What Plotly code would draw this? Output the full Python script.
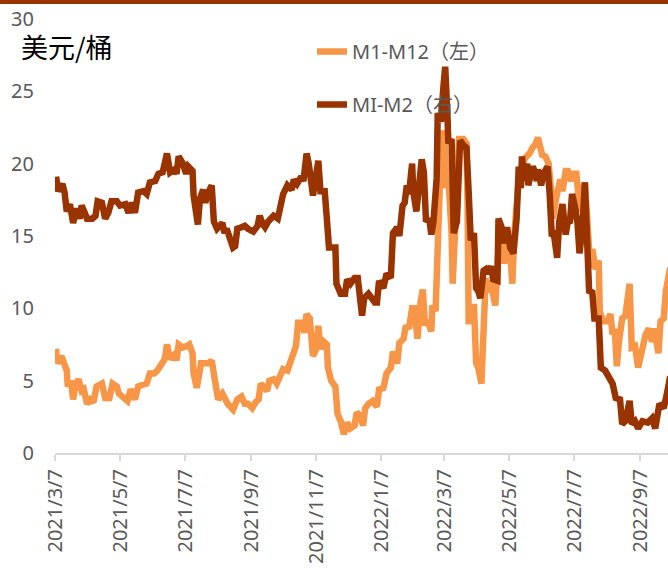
import pandas as pd
import plotly.graph_objects as go

# ---- data ----
BASE_DATE = "2021-03-07"

# M1-M12 spread: days since BASE_DATE, USD/bbl
m1m12_days = [1, 2, 6, 8, 11, 12, 15, 17, 19, 22, 25, 27, 30, 33, 36, 39, 44, 47, 51, 54, 58, 60, 64, 68, 71,
              75, 78, 83, 86, 89, 93, 96, 100, 103, 105, 108, 112, 114, 116, 120, 124, 126, 129, 130, 133,
              137, 141, 144, 147, 149, 150, 153, 157, 160, 162, 167, 171, 175, 178, 181, 185, 188, 191, 193,
              196, 199, 201, 205, 208, 211, 214, 218, 221, 223, 226, 228, 232, 234, 236, 239, 242, 245, 247,
              249, 252, 255, 256, 259, 263, 265, 268, 271, 274, 277, 281, 283, 286, 289, 291, 294, 298, 302,
              304, 308, 311, 315, 317, 321, 323, 327, 329, 332, 335, 337, 340, 343, 345, 347, 350, 353, 354,
              357, 359, 361, 364, 366, 367, 369, 372, 373, 375, 377, 379, 383, 386, 387, 388, 391, 393, 395,
              397, 400, 402, 404, 405, 407, 410, 413, 416, 419, 421, 424, 426, 429, 431, 435, 437, 441, 445,
              448, 451, 453, 455, 457, 460, 463, 465, 467, 470, 472, 474, 476, 479, 481, 484, 486, 489, 491,
              494, 495, 497, 500, 502, 504, 507, 510, 511, 514, 518, 521, 523, 525, 527, 529, 532, 535, 539,
              541, 544, 547, 551, 554, 557, 560, 562, 566, 568, 571, 573, 575, 577]
m1m12_values = [7.2, 6.2, 6.7, 6.4, 5.7, 4.6, 5.0, 3.7, 4.6, 5.1, 4.3, 4.4, 3.4, 3.7, 3.5, 4.6, 4.8, 3.8, 3.8,
                4.8, 4.6, 4.1, 3.8, 3.6, 4.4, 3.7, 4.6, 4.8, 4.8, 5.5, 5.5, 5.7, 6.2, 6.5, 7.5, 6.5, 6.8, 6.4,
                7.5, 7.3, 7.4, 7.5, 6.9, 5.5, 4.5, 6.2, 6.2, 6.2, 6.4, 5.5, 4.4, 3.7, 4.1, 3.7, 3.4, 3.0, 3.7,
                3.9, 3.4, 3.4, 3.1, 3.5, 3.7, 4.8, 4.6, 4.3, 5.0, 5.1, 4.8, 5.2, 5.8, 5.7, 6.4, 6.7, 7.4, 9.0,
                9.0, 8.3, 9.6, 9.3, 6.7, 7.2, 8.8, 7.2, 7.7, 7.5, 5.9, 5.0, 4.6, 2.7, 2.2, 1.3, 2.1, 1.7, 1.9,
                2.8, 2.6, 1.9, 3.1, 3.4, 3.6, 3.2, 4.4, 4.5, 5.5, 5.9, 7.0, 6.2, 7.6, 7.9, 8.8, 8.6, 10.0,
                10.0, 7.9, 10.5, 11.3, 9.0, 9.0, 8.4, 10.2, 9.8, 15.1, 18.6, 22.3, 20.9, 18.3, 19.1, 15.2,
                11.7, 14.9, 18.1, 21.7, 21.7, 21.4, 17.2, 9.1, 9.1, 10.3, 6.2, 5.9, 4.8, 8.9, 12.1, 11.1, 11.9,
                11.3, 10.2, 14.0, 14.8, 13.1, 14.4, 14.9, 11.7, 15.3, 18.8, 19.7, 20.4, 20.7, 21.1, 21.4, 21.8,
                21.1, 20.6, 20.5, 20.0, 18.5, 16.2, 17.6, 18.3, 18.9, 18.1, 19.5, 19.5, 18.8, 19.3, 19.3, 17.8,
                16.7, 18.1, 18.7, 15.3, 12.8, 14.1, 12.7, 13.3, 9.8, 9.1, 9.1, 9.6, 8.2, 8.6, 6.0, 7.7, 9.3,
                9.5, 11.7, 7.3, 7.4, 5.9, 7.5, 8.2, 8.6, 7.7, 8.6, 6.9, 9.1, 9.3, 11.2, 12.1, 12.8]

# MI-M2 spread: days since BASE_DATE, values as drawn
m1m2_days = [1, 3, 7, 9, 11, 14, 17, 20, 23, 25, 28, 30, 35, 38, 40, 44, 47, 50, 53, 58, 61, 66, 69, 72, 75,
             78, 83, 86, 89, 94, 97, 101, 105, 108, 112, 114, 116, 120, 123, 125, 129, 130, 134, 136, 139,
             141, 143, 147, 149, 152, 157, 159, 161, 164, 167, 169, 171, 175, 178, 181, 186, 190, 192, 195,
             197, 200, 205, 209, 211, 214, 218, 222, 224, 227, 231, 233, 236, 238, 242, 245, 247, 249, 253,
             255, 257, 263, 264, 268, 272, 274, 277, 281, 284, 288, 290, 294, 297, 300, 302, 304, 308, 311,
             315, 317, 321, 323, 326, 328, 330, 332, 335, 336, 339, 342, 344, 346, 348, 351, 353, 355, 358,
             359, 362, 364, 366, 368, 369, 372, 373, 374, 377, 378, 380, 383, 386, 388, 390, 393, 395, 397,
             399, 402, 404, 406, 409, 411, 415, 416, 419, 420, 424, 427, 430, 433, 435, 437, 438, 440, 443,
             444, 448, 450, 452, 453, 456, 458, 462, 464, 466, 468, 471, 473, 476, 479, 481, 483, 485, 488,
             490, 492, 495, 497, 500, 501, 504, 506, 510, 512, 516, 519, 523, 526, 530, 532, 535, 539, 541,
             544, 547, 551, 556, 560, 563, 567, 571, 574, 577]
m1m2_values = [19.1, 18.1, 18.6, 18.0, 16.7, 17.2, 15.9, 16.9, 16.2, 17.1, 16.6, 16.2, 16.2, 16.4, 17.4, 17.3,
               16.2, 16.6, 17.4, 17.4, 17.1, 17.2, 16.6, 17.3, 16.6, 18.0, 18.1, 17.9, 18.7, 18.8, 19.3, 19.4,
               20.7, 19.4, 19.6, 19.3, 20.5, 20.0, 19.3, 19.8, 19.5, 17.8, 15.8, 17.6, 18.2, 17.3, 17.9, 18.5,
               16.0, 15.5, 15.9, 15.2, 15.5, 14.9, 14.2, 14.3, 15.5, 15.6, 15.7, 15.5, 15.3, 15.7, 16.4, 15.8,
               15.6, 16.0, 16.4, 16.2, 16.9, 17.9, 18.5, 18.2, 18.9, 18.6, 19.1, 18.8, 20.7, 20.0, 17.8, 19.0,
               20.2, 18.1, 18.1, 16.2, 14.2, 14.2, 11.7, 11.0, 11.0, 12.0, 11.7, 12.1, 12.1, 9.5, 10.7, 11.0,
               10.7, 10.4, 10.4, 11.9, 11.4, 12.4, 12.1, 15.2, 15.6, 15.0, 17.1, 17.3, 18.5, 17.9, 20.0, 18.1,
               16.7, 19.0, 20.3, 19.4, 16.0, 16.2, 15.1, 16.0, 19.0, 23.5, 22.9, 25.0, 26.7, 23.6, 21.4, 21.7,
               17.9, 15.2, 16.0, 18.8, 21.6, 21.3, 21.1, 18.1, 14.7, 15.2, 11.4, 11.2, 10.7, 12.6, 12.7, 12.4,
               12.9, 12.0, 11.9, 16.2, 15.6, 14.5, 15.6, 14.2, 13.8, 16.2, 19.8, 18.3, 20.5, 18.8, 20.0, 18.5,
               19.8, 19.5, 18.8, 19.6, 18.5, 19.3, 19.8, 17.9, 15.0, 15.1, 13.5, 16.0, 17.2, 15.1, 16.0, 15.9,
               17.9, 16.9, 16.0, 13.8, 15.8, 18.7, 13.8, 11.2, 11.1, 9.3, 9.3, 5.9, 5.7, 5.2, 4.8, 3.8, 3.7,
               2.0, 2.2, 3.6, 2.0, 2.2, 1.7, 2.2, 2.1, 2.4, 1.7, 3.4, 3.1, 4.1, 5.3]

tick_dates = ["2021-03-07", "2021-05-07", "2021-07-07", "2021-09-07", "2021-11-07",
              "2022-01-07", "2022-03-07", "2022-05-07", "2022-07-07", "2022-09-07"]
tick_labels = ["2021/3/7", "2021/5/7", "2021/7/7", "2021/9/7", "2021/11/7",
               "2022/1/7", "2022/3/7", "2022/5/7", "2022/7/7", "2022/9/7"]
y_ticks = [0, 5, 10, 15, 20, 25, 30]
series_names = ["M1-M12（左）", "MI-M2（右）"]
unit_label = "美元/桶"
x_end = "2022-10-03"

# ---- figure ----
base = pd.Timestamp(BASE_DATE)
x_orange = base + pd.to_timedelta(m1m12_days, unit="D")
x_brown = base + pd.to_timedelta(m1m2_days, unit="D")

ORANGE = "#F79646"
BROWN = "#993300"
GREY = "#595959"
FONT = "Noto Sans, Noto Sans CJK SC, sans-serif"

fig = go.Figure()
fig.add_trace(go.Scatter(x=x_orange, y=m1m12_values, mode="lines", name=series_names[0],
                         legendgroup="a", line=dict(color=ORANGE, width=6.5)))
fig.add_trace(go.Scatter(x=x_brown, y=m1m2_values, mode="lines", name=series_names[1],
                         legendgroup="b", line=dict(color=BROWN, width=6.5)))

fig.update_layout(
    width=668, height=570,
    margin=dict(l=55, r=0, t=19, b=117, autoexpand=False),
    paper_bgcolor="white", plot_bgcolor="white",
    font=dict(family=FONT, size=20, color=GREY),
    showlegend=True,
    legend=dict(xref="paper", yref="paper", x=(312 - 55) / 613, y=1 - 13 / 434,
                xanchor="left", yanchor="top", bgcolor="rgba(0,0,0,0)",
                traceorder="grouped", tracegroupgap=24,
                font=dict(family=FONT, size=20, color=GREY)),
    xaxis=dict(type="date", range=[BASE_DATE, x_end],
               tickvals=tick_dates, ticktext=tick_labels, tickangle=-90,
               showgrid=False, zeroline=False,
               showline=True, linecolor="#D9D9D9", linewidth=2,
               ticks="outside", ticklen=6, tickcolor="#D9D9D9", tickwidth=2,
               tickfont=dict(family=FONT, size=20, color=GREY)),
    yaxis=dict(range=[0, 30], tickvals=y_ticks, showgrid=False, zeroline=False,
               showline=False, ticks="", ticklabelstandoff=20,
               tickfont=dict(family=FONT, size=20, color=GREY)),
    shapes=[dict(type="rect", xref="paper", yref="paper",
                 x0=-55 / 613, x1=1.0, y0=1 + 15 / 434, y1=1 + 19 / 434,
                 line=dict(width=0), fillcolor=BROWN, layer="above")],
    annotations=[dict(text=unit_label, xref="paper", yref="paper",
                      x=-36 / 613, y=1 - 27 / 434, xanchor="left", yanchor="middle",
                      showarrow=False, font=dict(family="Noto Sans CJK SC", size=27, color="black"))],
)

# the page body has a default 8px margin; remove it so the figure fills the window exactly
fig.write_html("out.html", config={"displayModeBar": False},
               post_script="document.body.style.margin='0';")
